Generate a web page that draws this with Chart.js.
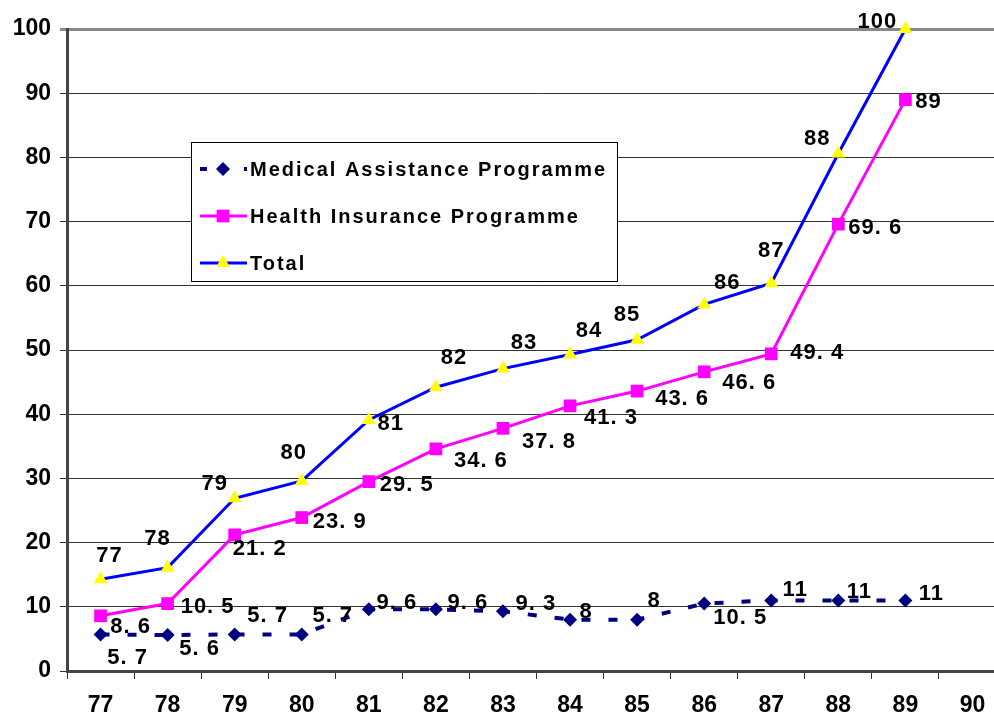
<!DOCTYPE html>
<html>
<head>
<meta charset="utf-8">
<script src="https://cdn.jsdelivr.net/npm/chart.js@4/dist/chart.umd.min.js"></script>
<style>
  html, body { margin: 0; padding: 0; background: #fff; overflow: hidden; }
  #wrap { width: 994px; height: 720px; overflow: hidden; }
  canvas { display: block; }
</style>
</head>
<body>
<div id="wrap"><canvas id="c" width="1015" height="720"></canvas></div>
<script>
// Years on the category axis
const years = ['77', '78', '79', '80', '81', '82', '83', '84', '85', '86', '87', '88', '89', '90'];

// Series values
const medicalAssistance = [5.7, 5.6, 5.7, 5.7, 9.6, 9.6, 9.3, 8, 8, 10.5, 11, 11, 11];
const healthInsurance = [8.6, 10.5, 21.2, 23.9, 29.5, 34.6, 37.8, 41.3, 43.6, 46.6, 49.4, 69.6, 89];
const total = [14.3, 16.1, 26.9, 29.6, 39.1, 44.2, 47.1, 49.3, 51.6, 57.1, 60.4, 80.6, 100];

// Text printed beside the Total points
const totalLabels = ['77', '78', '79', '80', '81', '82', '83', '84', '85', '86', '87', '88', '100'];

// Where each point label sits relative to its point (centre of text, px)
const medicalLabelOffsets = [[27, 24], [32, 14], [33, -18], [31, -18], [28, -6], [32, -6], [33, -7], [16, -8], [17, -19], [36, 14], [24, -10], [21, -8], [26, -6]];
const healthLabelOffsets = [[30, 11], [40, 3], [25, 14], [38, 4], [38, 3], [45, 12], [46, 14], [41, 12], [45, 8], [45, 11], [46, -1], [37, 4], [23, 2]];
const totalLabelOffsets = [[9, -23], [-10, -29], [-20, -14], [-8, -28], [22, 4], [18, -29], [21, -26], [19, -24], [-10, -25], [23, -21], [0, -32], [-21, -15], [-28, -7]];

const FONT = '"Liberation Sans", Arial, sans-serif';

function fmt(v) {
  return String(v).replace('.', '. ');
}

const pointLabels = {
  id: 'pointLabels',
  afterDatasetsDraw(chart) {
    const ctx = chart.ctx;
    const sets = [
      { idx: 0, texts: medicalAssistance.map(fmt), offs: medicalLabelOffsets },
      { idx: 1, texts: healthInsurance.map(fmt), offs: healthLabelOffsets },
      { idx: 2, texts: totalLabels, offs: totalLabelOffsets }
    ];
    ctx.save();
    ctx.font = 'bold 22px ' + FONT;
    ctx.letterSpacing = '1px';
    ctx.fillStyle = '#000';
    ctx.textAlign = 'center';
    ctx.textBaseline = 'middle';
    sets.forEach(s => {
      const meta = chart.getDatasetMeta(s.idx);
      meta.data.forEach((pt, i) => {
        const o = s.offs[i];
        ctx.fillText(s.texts[i], pt.x + o[0], pt.y + o[1]);
      });
    });
    ctx.restore();
  }
};

const boxLegend = {
  id: 'boxLegend',
  afterDraw(chart) {
    const ctx = chart.ctx;
    const x0 = 191, y0 = 142, w = 426, h = 139;
    ctx.save();
    ctx.fillStyle = '#fff';
    ctx.fillRect(x0, y0, w, h);
    ctx.strokeStyle = '#000';
    ctx.lineWidth = 1;
    ctx.strokeRect(x0 + 0.5, y0 + 0.5, w, h);

    const rows = [169, 216, 263];
    const ds = chart.data.datasets;
    ctx.font = 'bold 20px ' + FONT;
    ctx.letterSpacing = '2px';
    ctx.textBaseline = 'middle';
    ds.forEach((d, i) => {
      const y = rows[i];
      ctx.save();
      ctx.strokeStyle = d.borderColor;
      ctx.lineWidth = d.borderWidth;
      if (d.borderDash) ctx.setLineDash([7, 37]);
      ctx.beginPath();
      ctx.moveTo(200, y);
      ctx.lineTo(247, y);
      ctx.stroke();
      ctx.restore();
      ctx.save();
      ctx.fillStyle = d.pointBackgroundColor;
      ctx.strokeStyle = d.pointBackgroundColor;
      ctx.lineWidth = 0.01;
      Chart.helpers.drawPoint(ctx, { pointStyle: d.pointStyle, radius: d.pointRadius, borderWidth: 0 }, 223, y);
      ctx.restore();
      ctx.fillStyle = '#000';
      ctx.fillText(d.label, 250, y + 1);
    });
    ctx.restore();
  }
};

new Chart(document.getElementById('c'), {
  type: 'line',
  data: {
    labels: years,
    datasets: [
      {
        label: 'Medical Assistance Programme',
        data: medicalAssistance,
        borderColor: '#000080',
        borderWidth: 4,
        borderDash: [9, 18],
        pointStyle: 'rectRot',
        pointRadius: 7,
        pointBackgroundColor: '#000080',
        pointBorderWidth: 0,
        tension: 0,
        clip: false
      },
      {
        label: 'Health Insurance Programme',
        data: healthInsurance,
        borderColor: '#ff00ff',
        borderWidth: 3,
        pointStyle: 'rect',
        pointRadius: 9,
        pointBackgroundColor: '#ff00ff',
        pointBorderWidth: 0,
        tension: 0,
        clip: false
      },
      {
        label: 'Total',
        data: total,
        borderColor: '#0000ff',
        borderWidth: 3,
        pointStyle: 'triangle',
        pointRadius: 8,
        pointBackgroundColor: '#ffff00',
        pointBorderWidth: 0,
        tension: 0,
        clip: false
      }
    ]
  },
  options: {
    responsive: false,
    animation: false,
    devicePixelRatio: 1,
    layout: { padding: { top: 29, right: 2, left: 0, bottom: 0 } },
    plugins: {
      legend: { display: false },
      tooltip: { enabled: false }
    },
    scales: {
      x: {
        type: 'category',
        offset: true,
        grid: { offset: true, drawOnChartArea: false, drawTicks: true, tickLength: 8, color: '#333', lineWidth: 1 },
        border: { color: '#444', width: 3 },
        ticks: { font: { family: FONT, size: 23, weight: 'bold' }, color: '#000', padding: 13, maxRotation: 0, autoSkip: false },
        afterFit(s) { s.height = 49; }
      },
      y: {
        min: 0,
        max: 100,
        ticks: { stepSize: 10, padding: 9, font: { family: FONT, size: 23, weight: 'bold' }, color: '#000' },
        grid: {
          color: c => (c.tick && c.tick.value === 100) ? '#888' : '#333',
          lineWidth: c => (c.tick && c.tick.value === 100) ? 3 : 1,
          tickLength: 7
        },
        border: { color: '#444', width: 3 },
        afterFit(s) { s.width = 67; }
      }
    }
  },
  plugins: [pointLabels, boxLegend]
});
</script>
</body>
</html>
